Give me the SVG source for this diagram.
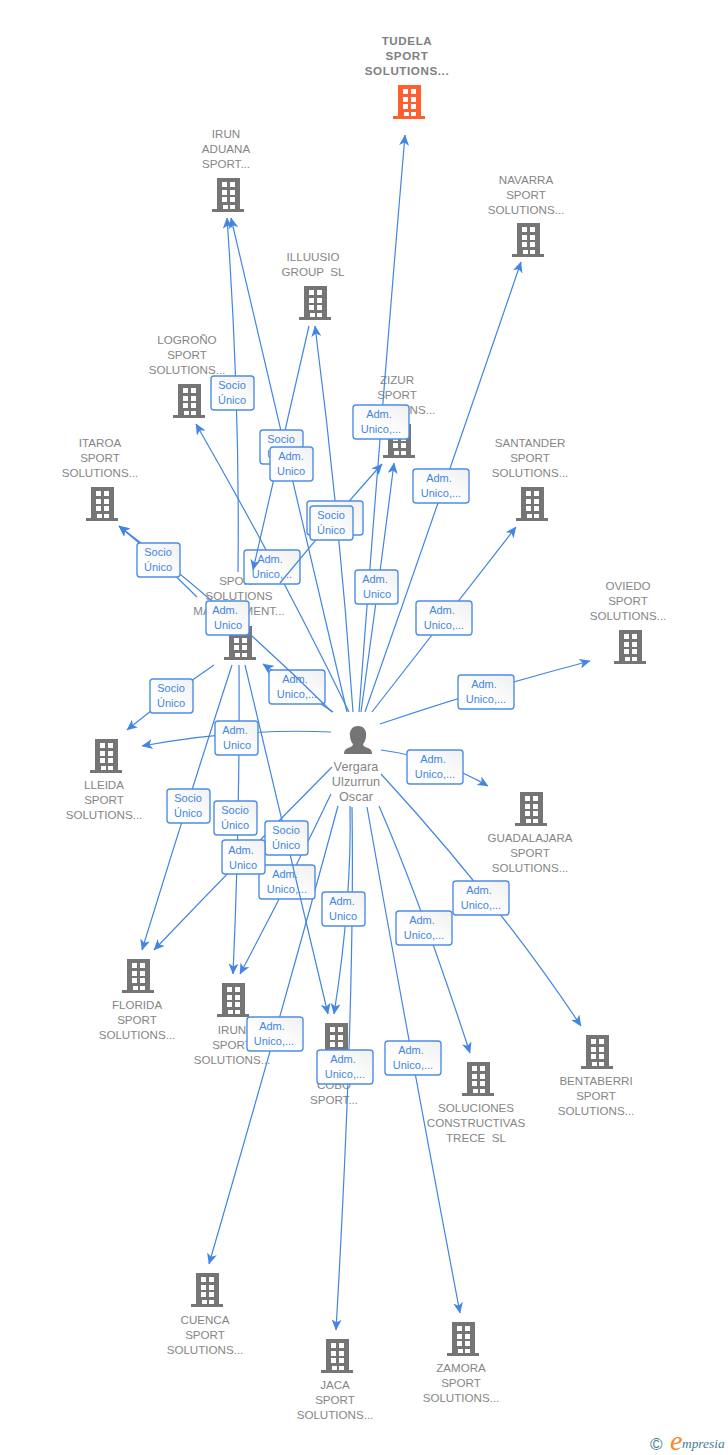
<svg xmlns="http://www.w3.org/2000/svg" width="728" height="1455" viewBox="0 0 728 1455">
<style>
text{font-family:"Liberation Sans",Arial,sans-serif}
.n{font-size:11.6px;fill:#858585;text-anchor:middle}
.t{font-size:11.6px;fill:#808080;text-anchor:middle;font-weight:bold;letter-spacing:.6px}
.p{font-size:12.6px;fill:#858585;text-anchor:middle;letter-spacing:.1px}
.l{font-size:11px;fill:#4285e2;text-anchor:middle}
.c{fill:none;stroke:#4285e2;stroke-width:1.2;marker-end:url(#a)}
.b{fill:url(#g);stroke:#4f8de4;stroke-width:1.4}
.i{fill:#757575}
.o{fill:#ff5f2e}
</style>
<defs>
<marker id="a" markerWidth="11" markerHeight="10" refX="10.5" refY="5" orient="auto" markerUnits="userSpaceOnUse" viewBox="0 0 11 10"><path d="M0 0L11 5L0 10L3 5Z" fill="#4285e2"/></marker>
<linearGradient id="g" x1="1" y1="0" x2="0.4" y2="0.7"><stop offset="0" stop-color="#f0f0f0"/><stop offset="1" stop-color="#fff"/></linearGradient>
<path id="h" fill-rule="evenodd" d="M-11 0H12V31H16V34H-16V31H-11ZM-6 4V9H-1V4ZM2 4V9H7V4ZM-6 12V17H-1V12ZM2 12V17H7V12ZM-6 19V24H-1V19ZM2 19V24H7V19ZM-5 27V31H0V27ZM2 27V31H7V27Z"/>
</defs>
<g id="n-tudela"><text class="t" x="407" y="45">TUDELA</text><text class="t" x="407" y="60">SPORT</text><text class="t" x="407" y="75">SOLUTIONS...</text><use href="#h" class="o" x="409" y="85"/></g>
<g id="n-irun-aduana"><text class="n" x="226" y="138">IRUN</text><text class="n" x="226" y="153">ADUANA</text><text class="n" x="226" y="168">SPORT...</text><use href="#h" class="i" x="228" y="178"/></g>
<g id="n-navarra"><text class="n" x="526" y="184">NAVARRA</text><text class="n" x="526" y="199">SPORT</text><text class="n" x="526" y="214">SOLUTIONS...</text><use href="#h" class="i" x="528" y="223"/></g>
<g id="n-illuusio"><text class="n" x="313" y="261">ILLUUSIO</text><text class="n" x="313" y="276" xml:space="preserve">GROUP  SL</text><use href="#h" class="i" x="315" y="286"/></g>
<g id="n-logrono"><text class="n" x="187" y="344">LOGROÑO</text><text class="n" x="187" y="359">SPORT</text><text class="n" x="187" y="374">SOLUTIONS...</text><use href="#h" class="i" x="189" y="384"/></g>
<g id="n-zizur"><text class="n" x="397" y="384">ZIZUR</text><text class="n" x="397" y="399">SPORT</text><text class="n" x="397" y="414">SOLUTIONS...</text><use href="#h" class="i" x="399" y="424"/></g>
<g id="n-itaroa"><text class="n" x="100" y="447">ITAROA</text><text class="n" x="100" y="462">SPORT</text><text class="n" x="100" y="477">SOLUTIONS...</text><use href="#h" class="i" x="102" y="487"/></g>
<g id="n-santander"><text class="n" x="530" y="447">SANTANDER</text><text class="n" x="530" y="462">SPORT</text><text class="n" x="530" y="477">SOLUTIONS...</text><use href="#h" class="i" x="532" y="487"/></g>
<g id="n-oviedo"><text class="n" x="628" y="590">OVIEDO</text><text class="n" x="628" y="605">SPORT</text><text class="n" x="628" y="620">SOLUTIONS...</text><use href="#h" class="i" x="630" y="630"/></g>
<g id="n-management"><text class="n" x="239" y="585">SPORT</text><text class="n" x="239" y="600">SOLUTIONS</text><text class="n" x="239" y="615">MANAGEMENT...</text><use href="#h" class="i" x="240" y="626"/></g>
<g id="n-lleida"><use href="#h" class="i" x="106" y="739"/><text class="n" x="104" y="789">LLEIDA</text><text class="n" x="104" y="804">SPORT</text><text class="n" x="104" y="819">SOLUTIONS...</text></g>
<g id="n-guadalajara"><use href="#h" class="i" x="531" y="792"/><text class="n" x="530" y="842">GUADALAJARA</text><text class="n" x="530" y="857">SPORT</text><text class="n" x="530" y="872">SOLUTIONS...</text></g>
<g id="n-florida"><use href="#h" class="i" x="138" y="959"/><text class="n" x="137" y="1009">FLORIDA</text><text class="n" x="137" y="1024">SPORT</text><text class="n" x="137" y="1039">SOLUTIONS...</text></g>
<g id="n-irun"><use href="#h" class="i" x="233" y="983"/><text class="n" x="232" y="1034">IRUN</text><text class="n" x="232" y="1049">SPORT</text><text class="n" x="232" y="1064">SOLUTIONS...</text></g>
<g id="n-cobo"><use href="#h" class="i" x="336" y="1023"/><text class="n" x="334" y="1089">COBO</text><text class="n" x="334" y="1104">SPORT...</text></g>
<g id="n-bentaberri"><use href="#h" class="i" x="597" y="1035"/><text class="n" x="596" y="1085">BENTABERRI</text><text class="n" x="596" y="1100">SPORT</text><text class="n" x="596" y="1115">SOLUTIONS...</text></g>
<g id="n-soluciones"><use href="#h" class="i" x="478" y="1062"/><text class="n" x="476" y="1112">SOLUCIONES</text><text class="n" x="476" y="1127">CONSTRUCTIVAS</text><text class="n" x="476" y="1142" xml:space="preserve">TRECE  SL</text></g>
<g id="n-cuenca"><use href="#h" class="i" x="207" y="1273"/><text class="n" x="205" y="1324">CUENCA</text><text class="n" x="205" y="1339">SPORT</text><text class="n" x="205" y="1354">SOLUTIONS...</text></g>
<g id="n-jaca"><use href="#h" class="i" x="337" y="1339"/><text class="n" x="335" y="1389">JACA</text><text class="n" x="335" y="1404">SPORT</text><text class="n" x="335" y="1419">SOLUTIONS...</text></g>
<g id="n-zamora"><use href="#h" class="i" x="463" y="1322"/><text class="n" x="461" y="1372">ZAMORA</text><text class="n" x="461" y="1387">SPORT</text><text class="n" x="461" y="1402">SOLUTIONS...</text></g>
<g id="n-person"><path class="i" d="M358 726C352 726 349 731 350 736C350 740 352 743 353 744C353 746 351 747 348 748C345 749 344 751 344 754H372C372 751 371 749 368 748C365 747 363 746 363 744C364 743 366 740 366 736C367 731 364 726 358 726Z"/><text class="p" x="356" y="771">Vergara</text><text class="p" x="356" y="786">Ulzurrun</text><text class="p" x="356" y="801">Oscar</text></g>
<g id="connectors">
<path class="c" d="M359 712Q380 430 405 135"/>
<path class="c" d="M365 712Q450 470 521 262"/>
<path class="c" d="M361 712Q378 590 394 463"/>
<path class="c" d="M372 712Q440 625 516 527"/>
<path class="c" d="M380 724Q480 690 590 661"/>
<path class="c" d="M381 750Q440 758 488 786"/>
<path class="c" d="M381 774Q497 900 581 1026"/>
<path class="c" d="M379 806Q420 900 470 1053"/>
<path class="c" d="M367 807Q410 1050 460 1313"/>
<path class="c" d="M352 807Q355 1000 336 1330"/>
<path class="c" d="M350 806Q352 900 334 1014"/>
<path class="c" d="M338 806Q280 1020 209 1264"/>
<path class="c" d="M331 794Q290 880 240 974"/>
<path class="c" d="M332 767Q240 860 154 950"/>
<path class="c" d="M331 732Q240 728 142 746"/>
<path class="c" d="M333 712Q300 690 263 664"/>
<path class="c" d="M349 712Q280 570 196 424"/>
<path class="c" d="M353 712Q340 520 315 326"/>
<path class="c" d="M347 712Q290 470 231 218"/>
<path class="c" d="M238 572Q240 400 227 218"/>
<path class="c" d="M197 597Q160 560 119 526"/>
<path class="c" d="M214 665Q170 695 127 730"/>
<path class="c" d="M232 665Q185 810 142 950"/>
<path class="c" d="M239 665Q240 820 233 974"/>
<g id="edge-labels-a">
<rect class="b" x="211" y="376" width="43" height="34" rx="3"/><text class="l" x="232" y="389">Socio</text><text class="l" x="232" y="404">Único</text>
<rect class="b" x="353" y="405" width="56" height="34" rx="3"/><text class="l" x="379" y="418">Adm.</text><text class="l" x="381" y="433">Unico,...</text>
<rect class="b" x="413" y="469" width="56" height="34" rx="3"/><text class="l" x="439" y="482">Adm.</text><text class="l" x="441" y="497">Unico,...</text>
<rect class="b" x="244" y="550" width="56" height="34" rx="3"/><text class="l" x="270" y="563">Adm.</text><text class="l" x="272" y="578">Unico,...</text>
<rect class="b" x="355" y="570" width="43" height="34" rx="3"/><text class="l" x="375" y="583">Adm.</text><text class="l" x="377" y="598">Unico</text>
<rect class="b" x="416" y="601" width="56" height="34" rx="3"/><text class="l" x="442" y="614">Adm.</text><text class="l" x="444" y="629">Unico,...</text>
<rect class="b" x="458" y="675" width="56" height="34" rx="3"/><text class="l" x="484" y="688">Adm.</text><text class="l" x="486" y="703">Unico,...</text>
<rect class="b" x="269" y="670" width="56" height="34" rx="3"/><text class="l" x="295" y="683">Adm.</text><text class="l" x="297" y="698">Unico,...</text>
<rect class="b" x="150" y="679" width="43" height="34" rx="3"/><text class="l" x="171" y="692">Socio</text><text class="l" x="171" y="707">Único</text>
<rect class="b" x="215" y="721" width="43" height="34" rx="3"/><text class="l" x="235" y="734">Adm.</text><text class="l" x="237" y="749">Unico</text>
<rect class="b" x="407" y="750" width="56" height="34" rx="3"/><text class="l" x="433" y="763">Adm.</text><text class="l" x="435" y="778">Unico,...</text>
<rect class="b" x="167" y="789" width="43" height="34" rx="3"/><text class="l" x="188" y="802">Socio</text><text class="l" x="188" y="817">Único</text>
<rect class="b" x="214" y="801" width="43" height="34" rx="3"/><text class="l" x="235" y="814">Socio</text><text class="l" x="235" y="829">Único</text>
<rect class="b" x="259" y="865" width="56" height="34" rx="3"/><text class="l" x="285" y="878">Adm.</text><text class="l" x="287" y="893">Unico,...</text>
<rect class="b" x="453" y="881" width="56" height="34" rx="3"/><text class="l" x="479" y="894">Adm.</text><text class="l" x="481" y="909">Unico,...</text>
<rect class="b" x="396" y="911" width="56" height="34" rx="3"/><text class="l" x="422" y="924">Adm.</text><text class="l" x="424" y="939">Unico,...</text>
<rect class="b" x="322" y="892" width="43" height="34" rx="3"/><text class="l" x="342" y="905">Adm.</text><text class="l" x="343" y="920">Unico</text>
<rect class="b" x="247" y="1017" width="56" height="34" rx="3"/><text class="l" x="272" y="1030">Adm.</text><text class="l" x="274" y="1045">Unico,...</text>
<rect class="b" x="317" y="1050" width="56" height="34" rx="3"/><text class="l" x="343" y="1063">Adm.</text><text class="l" x="345" y="1078">Unico,...</text>
<rect class="b" x="385" y="1041" width="56" height="34" rx="3"/><text class="l" x="411" y="1054">Adm.</text><text class="l" x="413" y="1069">Unico,...</text>
</g>
<path class="c" d="M332 712Q230 610 119 526"/>
<path class="c" d="M309 326Q280 450 253 570"/>
<path class="c" d="M280 583Q330 522 382 464"/>
<path class="c" d="M245 665Q285 830 328 1014"/>
<g id="edge-labels-b">
<rect class="b" x="260" y="430" width="43" height="34" rx="3"/><text class="l" x="281" y="443">Socio</text><text class="l" x="281" y="458">Único</text>
<rect class="b" x="270" y="447" width="43" height="34" rx="3"/><text class="l" x="291" y="460">Adm.</text><text class="l" x="291" y="475">Unico</text>
<rect class="b" x="307" y="501" width="56" height="34" rx="3"/>
<rect class="b" x="310" y="506" width="43" height="34" rx="3"/><text class="l" x="331" y="519">Socio</text><text class="l" x="331" y="534">Único</text>
<rect class="b" x="137" y="543" width="43" height="34" rx="3"/><text class="l" x="158" y="556">Socio</text><text class="l" x="158" y="571">Único</text>
<rect class="b" x="206" y="601" width="43" height="34" rx="3"/><text class="l" x="225" y="614">Adm.</text><text class="l" x="228" y="629">Unico</text>
<rect class="b" x="265" y="821" width="43" height="34" rx="3"/><text class="l" x="286" y="834">Socio</text><text class="l" x="286" y="849">Único</text>
<rect class="b" x="222" y="840" width="43" height="34" rx="3"/><text class="l" x="241" y="854">Adm.</text><text class="l" x="243" y="869">Unico</text>
</g>
</g>
<g id="logo"><text x="650" y="1450" style="font-size:17px;fill:#3f7d96">©</text><text x="670" y="1450" style="font-family:'Liberation Serif',serif;font-style:italic;font-size:28px;fill:#f58a1f">e</text><text x="682" y="1448" style="font-family:'Liberation Serif',serif;font-style:italic;font-size:13.4px;fill:#3f7d96">mpresia</text></g>
</svg>
